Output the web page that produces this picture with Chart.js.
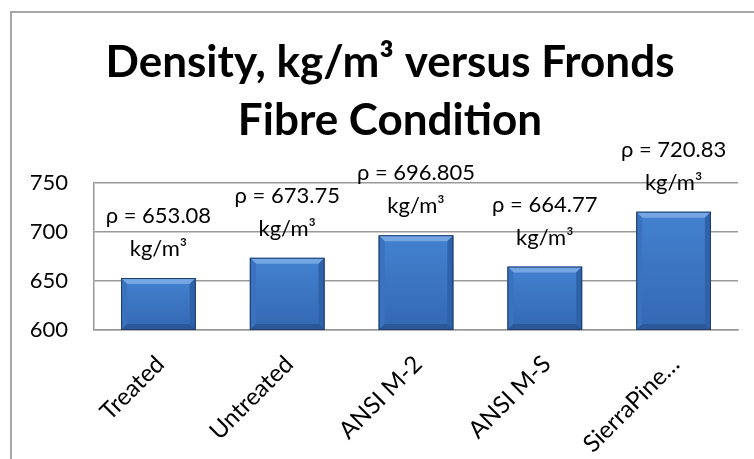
<!DOCTYPE html>
<html>
<head>
<meta charset="utf-8">
<script src="https://cdn.jsdelivr.net/npm/chart.js"></script>
<style>
  html, body { margin: 0; padding: 0; background: #fff; overflow: hidden; }
  #frame { position: absolute; left: 10px; top: 11px; width: 800px; height: 500px; border: 2px solid #a6a6a6; }
  #wrap { position: absolute; left: 0; top: 0; width: 754px; height: 459px; }
</style>
</head>
<body>
<div id="frame"></div>
<div id="wrap"><canvas id="chart"></canvas></div>
<script>
const categories = ['Treated', 'Untreated', 'ANSI M-2', 'ANSI M-S', 'SierraPine…'];
const densities = [653.08, 673.75, 696.805, 664.77, 720.83];
const valueLabels = ['ρ = 653.08', 'ρ = 673.75', 'ρ = 696.805', 'ρ = 664.77', 'ρ = 720.83'];
const unitLabel = 'kg/m³';
const yMin = 600;
const yMax = 750;
const yStep = 50;

const FONT = 'Lato, "Noto Sans", sans-serif';

// the chart frame runs past the right edge of the window, so the title sits a bit right of centre
const titleShift = {
  id: 'titleShift',
  afterLayout(chart) {
    if (chart.titleBlock) chart.titleBlock.left = 42;
  }
};

// Excel-style bevel drawn over each bar, clipped to the plot area
const bevelPlugin = {
  id: 'bevel',
  afterDatasetsDraw(chart) {
    const ctx = chart.ctx;
    const area = chart.chartArea;
    const meta = chart.getDatasetMeta(0);
    meta.data.forEach((bar) => {
      const l = bar.x - bar.width / 2, r = bar.x + bar.width / 2;
      const t = bar.y, b = Math.min(bar.base, area.bottom);
      const d = 6;
      ctx.save();
      const grad = ctx.createLinearGradient(0, t, 0, b);
      grad.addColorStop(0, '#4382d0');
      grad.addColorStop(1, '#3468b2');
      ctx.fillStyle = grad;
      ctx.fillRect(l, t, r - l, b - t);
      // top
      ctx.fillStyle = '#74a6e4';
      ctx.beginPath();
      ctx.moveTo(l, t); ctx.lineTo(r, t); ctx.lineTo(r - d, t + d); ctx.lineTo(l + d, t + d); ctx.closePath(); ctx.fill();
      // left
      ctx.fillStyle = '#3a72bd';
      ctx.beginPath();
      ctx.moveTo(l, t); ctx.lineTo(l + d, t + d); ctx.lineTo(l + d, b - d); ctx.lineTo(l, b); ctx.closePath(); ctx.fill();
      // right
      ctx.fillStyle = '#2f62a8';
      ctx.beginPath();
      ctx.moveTo(r, t); ctx.lineTo(r - d, t + d); ctx.lineTo(r - d, b - d); ctx.lineTo(r, b); ctx.closePath(); ctx.fill();
      // bottom
      ctx.fillStyle = '#2a5898';
      ctx.beginPath();
      ctx.moveTo(l, b); ctx.lineTo(l + d, b - d); ctx.lineTo(r - d, b - d); ctx.lineTo(r, b); ctx.closePath(); ctx.fill();
      ctx.strokeStyle = '#1f3d6b';
      ctx.lineWidth = 1;
      ctx.strokeRect(l + 0.5, t + 0.5, r - l - 1, b - t - 1);
      ctx.restore();
    });
  }
};

const labelPlugin = {
  id: 'valueLabels',
  afterDatasetsDraw(chart) {
    const ctx = chart.ctx;
    const meta = chart.getDatasetMeta(0);
    ctx.save();
    ctx.font = '22px ' + FONT;
    ctx.fillStyle = '#000';
    ctx.textAlign = 'center';
    ctx.textBaseline = 'middle';
    meta.data.forEach((bar, i) => {
      ctx.fillText(unitLabel, bar.x, bar.y - 29);
      ctx.fillText(valueLabels[i], bar.x, bar.y - 62);
    });
    ctx.restore();
  }
};

new Chart(document.getElementById('chart'), {
  type: 'bar',
  data: {
    labels: categories,
    datasets: [{
      data: densities,
      backgroundColor: 'rgba(0,0,0,0)',
      borderWidth: 0,
      barPercentage: 0.58,
      categoryPercentage: 1
    }]
  },
  plugins: [titleShift, bevelPlugin, labelPlugin],
  options: {
    responsive: true,
    maintainAspectRatio: false,
    animation: false,
    layout: { padding: { left: 0, right: 16, top: 0, bottom: 0 } },
    plugins: {
      legend: { display: false },
      tooltip: { enabled: false },
      title: {
        display: true,
        text: ['Density, kg/m³ versus Fronds', 'Fibre Condition'],
        color: '#000',
        font: { family: FONT, size: 44, weight: 'bold', lineHeight: 1.32 },
        padding: { top: 34, bottom: 33 }
      }
    },
    scales: {
      y: {
        min: yMin,
        max: yMax,
        ticks: { stepSize: yStep, color: '#000', padding: 26, font: { family: FONT, size: 22 } },
        grid: { color: '#999', lineWidth: 1.5, drawTicks: false },
        border: { display: true, color: '#999', width: 1.5 },
        afterFit(scale) { scale.width = 94; }
      },
      x: {
        ticks: {
          color: '#000', maxRotation: 45, minRotation: 45, autoSkip: false,
          padding: 20, labelOffset: 2,
          font: { family: FONT, size: 24 }
        },
        grid: { display: false, drawTicks: false },
        border: { display: true, color: '#999', width: 1.5 },
        afterFit(scale) { scale.height = 129; }
      }
    }
  }
});
</script>
</body>
</html>
